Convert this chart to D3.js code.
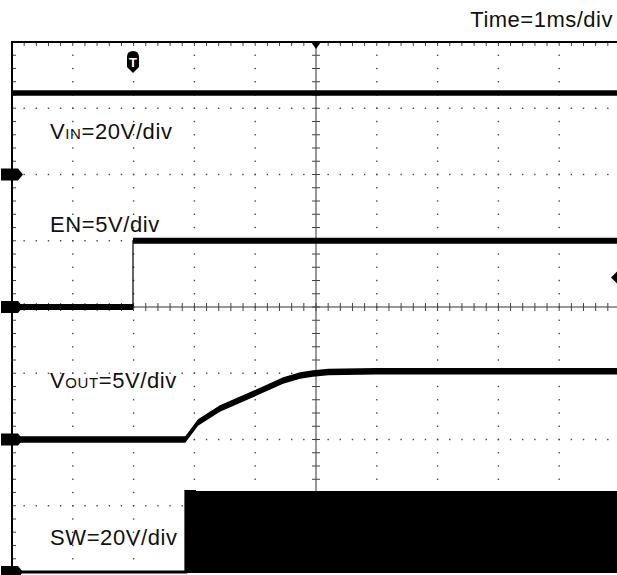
<!DOCTYPE html>
<html>
<head>
<meta charset="utf-8">
<script src="https://cdn.jsdelivr.net/npm/d3@7"></script>
<style>
  html, body { margin: 0; padding: 0; background: #fff; overflow: hidden; }
  svg { display: block; }
  text { font-family: "Liberation Sans", Arial, sans-serif; fill: #111; }
</style>
</head>
<body>
<div id="chart"></div>
<script>
// scope screen: 10 horizontal divisions, 8 vertical divisions
const timeDivs = [0, 10];
const screenDivs = [-4, 4];

// channel ground offsets (divisions from centre) and volts per division
const channelNames = ["VIN", "EN", "VOUT", "SW"];
const channelOffsets = [2, 0, -2, -4];
const channelScales = [20, 5, 5, 20];

// traces, time in divisions, volts
const vinTime = [0, 10];
const vinVolts = [24.6, 24.6];

const enTime = [0, 1.99, 10];
const enVolts = [0, 5.0, 5.0];

const voutTime = [0, 2.85, 3.06, 3.42, 3.91, 4.46, 4.74, 4.95, 5.2, 6.0, 10];
const voutVolts = [0, 0, 1.28, 2.34, 3.32, 4.45, 4.83, 4.98, 5.1, 5.15, 5.15];

const swTime = [0, 2.86, 3.0, 10];
const swVolts = [0, 24.3, 24.0, 24.0];

const triggerTime = 1.99;
const triggerLevel = 2.3; // EN volts

const width = 617, height = 575;
const svg = d3.select("#chart").append("svg")
    .attr("width", width)
    .attr("height", height);

const x = d3.scaleLinear().domain(timeDivs).range([12, 620]);
const y = d3.scaleLinear().domain(screenDivs).range([572, 42]);

// volts of channel i -> screen y
function yv(i, v) {
    return y(channelOffsets[i] + v / channelScales[i]);
}

// dotted graticule
const grid = svg.append("g");
const minorX = d3.range(0, 50.01).map(k => k / 5);
const minorY = d3.range(-20, 20.01).map(k => k / 5);
d3.range(1, 10).filter(k => k !== 5).forEach(k => {
    grid.selectAll(null).data(minorY).enter().append("rect")
        .attr("x", x(k) - 0.7).attr("y", d => y(d) - 0.7)
        .attr("width", 1.4).attr("height", 1.4).attr("fill", "#444");
});
d3.range(-3, 4).filter(k => k !== 0).forEach(k => {
    grid.selectAll(null).data(minorX).enter().append("rect")
        .attr("x", d => x(d) - 0.7).attr("y", y(k) - 0.7)
        .attr("width", 1.4).attr("height", 1.4).attr("fill", "#444");
});

// centre axes with minor ticks
grid.append("line").attr("x1", x(5)).attr("x2", x(5)).attr("y1", y(4)).attr("y2", y(-4))
    .attr("stroke", "#333").attr("stroke-width", 1);
grid.append("line").attr("x1", x(0)).attr("x2", width).attr("y1", y(0)).attr("y2", y(0))
    .attr("stroke", "#333").attr("stroke-width", 1);
grid.selectAll(null).data(minorY).enter().append("line")
    .attr("x1", x(5) - 4).attr("x2", x(5) + 4).attr("y1", d => y(d)).attr("y2", d => y(d))
    .attr("stroke", "#444").attr("stroke-width", 1);
grid.selectAll(null).data(minorX).enter().append("line")
    .attr("x1", d => x(d)).attr("x2", d => x(d)).attr("y1", y(0) - 4).attr("y2", y(0) + 4)
    .attr("stroke", "#444").attr("stroke-width", 1);

// border ticks
grid.selectAll(null).data(minorX).enter().append("line")
    .attr("x1", d => x(d)).attr("x2", d => x(d)).attr("y1", y(4)).attr("y2", y(4) + 4)
    .attr("stroke", "#444").attr("stroke-width", 1);
grid.selectAll(null).data(minorY).enter().append("line")
    .attr("x1", x(0)).attr("x2", x(0) + 4).attr("y1", d => y(d)).attr("y2", d => y(d))
    .attr("stroke", "#444").attr("stroke-width", 1);

// frame
svg.append("path")
    .attr("d", `M${width},${y(4)}H${x(0)}V${y(-4)}H${width}`)
    .attr("fill", "none").attr("stroke", "#000").attr("stroke-width", 2);

// traces: thin line plus a thick band around it
const traces = svg.append("g");
function drawTrace(i, times, volts, curve, half) {
    const pts = times.map((t, k) => [t, volts[k]]);
    traces.append("path").datum(pts)
        .attr("d", d3.area().curve(curve)
            .x(d => x(d[0]))
            .y0(d => yv(i, d[1]) + half)
            .y1(d => yv(i, d[1]) - half))
        .attr("fill", "#000");
    traces.append("path").datum(pts)
        .attr("d", d3.line().curve(curve).x(d => x(d[0])).y(d => yv(i, d[1])))
        .attr("fill", "none").attr("stroke", "#000").attr("stroke-width", 1.2);
}
drawTrace(0, vinTime, vinVolts, d3.curveLinear, 2.8);
drawTrace(1, enTime, enVolts, d3.curveStepAfter, 3);
drawTrace(2, voutTime, voutVolts, d3.curveLinear, 3.2);

// SW switching node: filled envelope
const swPts = swTime.map((t, k) => [t, swVolts[k]]);
traces.append("path").datum(swPts.slice(1))
    .attr("d", d3.area().x(d => x(d[0])).y0(yv(3, 0)).y1(d => yv(3, d[1])))
    .attr("fill", "#000");
traces.append("path").datum(swPts)
    .attr("d", d3.line().curve(d3.curveStepAfter).x(d => x(d[0])).y(d => yv(3, d[1])))
    .attr("fill", "none").attr("stroke", "#000").attr("stroke-width", 3);

// channel ground markers on the left
channelOffsets.forEach(off => {
    const cy = y(off);
    svg.append("path")
        .attr("d", `M1,${cy - 6}H18L23,${cy}L18,${cy + 6}H1Z`)
        .attr("fill", "#000");
});

// trigger position marker
const tx = x(triggerTime);
svg.append("path")
    .attr("d", `M${tx - 6},${57}Q${tx - 6},51 ${tx},51Q${tx + 6},51 ${tx + 6},57V67L${tx},73L${tx - 6},67Z`)
    .attr("fill", "#000");
svg.append("text").attr("x", tx).attr("y", 67).attr("text-anchor", "middle")
    .style("font-size", "13px").style("font-weight", "bold").style("fill", "#fff").text("T");

// centre time marker
svg.append("path")
    .attr("d", `M${x(5) - 5},${y(4)}L${x(5) + 5},${y(4)}L${x(5)},${y(4) + 7}Z`)
    .attr("fill", "#000");

// trigger level marker on the right
const ly = yv(1, triggerLevel) + 1;
svg.append("path")
    .attr("d", `M${width - 6},${ly}L${width},${ly - 6}V${ly + 6}Z`)
    .attr("fill", "#000");

// labels
const labelFont = "22px";
svg.append("text").attr("x", 613).attr("y", 27).attr("text-anchor", "end")
    .style("font-size", labelFont).style("letter-spacing", "0.5px").text("Time=1ms/div");

const labels = [
    {main: "V", sub: "IN", rest: "=20V/div", y: 139},
    {main: "EN=5V/div", sub: "", rest: "", y: 232},
    {main: "V", sub: "OUT", rest: "=5V/div", y: 388},
    {main: "SW=20V/div", sub: "", rest: "", y: 545}
];
labels.forEach(l => {
    const t = svg.append("text").attr("x", 50).attr("y", l.y)
        .style("font-size", labelFont).style("letter-spacing", "0.6px");
    t.append("tspan").text(l.main);
    if (l.sub) {
        t.append("tspan").style("font-size", "15px").text(l.sub);
        t.append("tspan").text(l.rest);
    }
});
</script>
</body>
</html>
